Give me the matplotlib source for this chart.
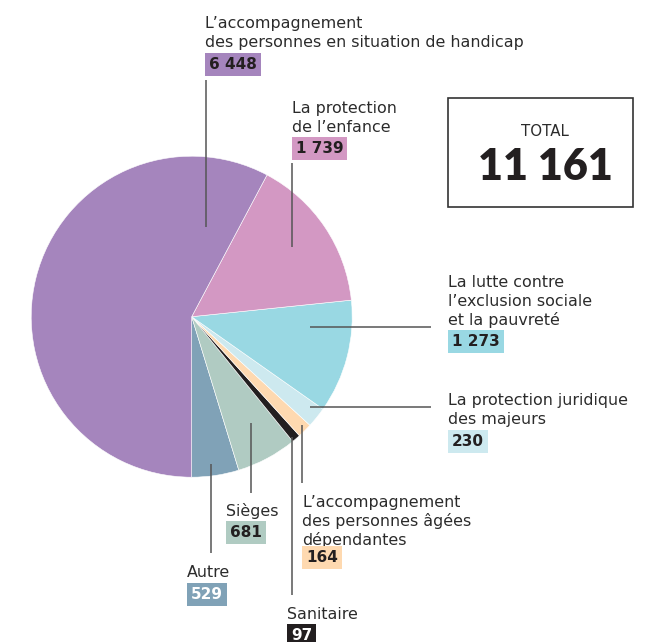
import matplotlib.pyplot as plt
from matplotlib.patches import Rectangle

# Données (ordre anti-horaire depuis le bas du camembert)
categories = ["Autre", "Sièges", "Sanitaire",
              "L’accompagnement\ndes personnes âgées\ndépendantes",
              "La protection juridique\ndes majeurs",
              "La lutte contre\nl’exclusion sociale\net la pauvreté",
              "La protection\nde l’enfance",
              "L’accompagnement\ndes personnes en situation de handicap"]
values = [529, 681, 97, 164, 230, 1273, 1739, 6448]
value_labels = ["529", "681", "97", "164", "230", "1 273", "1 739", "6 448"]
colors = ["#80a2b7", "#b0cbc2", "#231f20", "#fed9b0", "#cde9ef",
          "#99d8e3", "#d398c3", "#a585bd"]
num_colors = ["white", "#231f20", "white", "#231f20", "#231f20",
              "#231f20", "#231f20", "#231f20"]
total_label = "11 161"

W, H = 669, 642
FONT = "DejaVu Sans"
FS = 11.4
TXT = "#2b2b2b"
LINE = "#555555"


def Y(y):
    # coordonnées pixel (haut -> bas) vers axes
    return H - y


fig = plt.figure(figsize=(W / 100, H / 100), dpi=100)
ax = fig.add_axes([0, 0, 1, 1])

ax.pie(values, colors=colors, startangle=-90, counterclock=True,
       center=(191.7, Y(316.7)), radius=160.5,
       wedgeprops=dict(edgecolor="white", linewidth=0.4))
ax.set_xlim(0, W)
ax.set_ylim(0, H)
ax.set_aspect("equal")
ax.axis("off")

# positions des étiquettes : (x, baseline 1re ligne, baseline du nombre)
label_pos = [
    (187, 576.7, 599),
    (226, 516, 537),
    (287, 619, 640),
    (302, 506.7, 562),
    (448, 405, 446),
    (448, 286.7, 346),
    (292, 113, 153),
    (205, 28, 69),
]
# traits de rappel (x0, y0, x1, y1)
leaders = [
    (211, 464, 211, 553),
    (251, 423, 251, 493),
    (292, 437, 292, 595),
    (302, 425, 302, 483),
    (310, 407, 431, 407),
    (310, 327, 431, 327),
    (292, 247, 292, 163),
    (206, 227, 206, 80),
]

for cat, lab, col, ncol, (x, yb, yn), (x0, y0, x1, y1) in zip(
        categories, value_labels, colors, num_colors, label_pos, leaders):
    ax.plot([x0, x1], [Y(y0), Y(y1)], color=LINE, lw=1.1,
            solid_capstyle="butt", zorder=3)
    for i, line in enumerate(cat.split("\n")):
        ax.text(x, Y(yb + i * 19.2), line, fontsize=FS, family=FONT,
                color=TXT, ha="left", va="baseline")
    ax.text(x + 4, Y(yn), lab, fontsize=FS - 0.4, family=FONT,
            fontweight="bold", color=ncol, ha="left", va="baseline",
            bbox=dict(boxstyle="square,pad=0.25", fc=col, ec="none"))

# encadré total
ax.add_patch(Rectangle((448, Y(207)), 185, 109, fill=False,
                       edgecolor="#333333", lw=1.2))
ax.text(545, Y(136), "TOTAL", fontsize=FS - 0.6, family=FONT, color=TXT,
        ha="center", va="baseline")
ax.text(545, Y(180), total_label, fontsize=31, family="Lato",
        fontweight="heavy", color="#231f20", ha="center", va="baseline")

fig.savefig("out.png", dpi=100)
